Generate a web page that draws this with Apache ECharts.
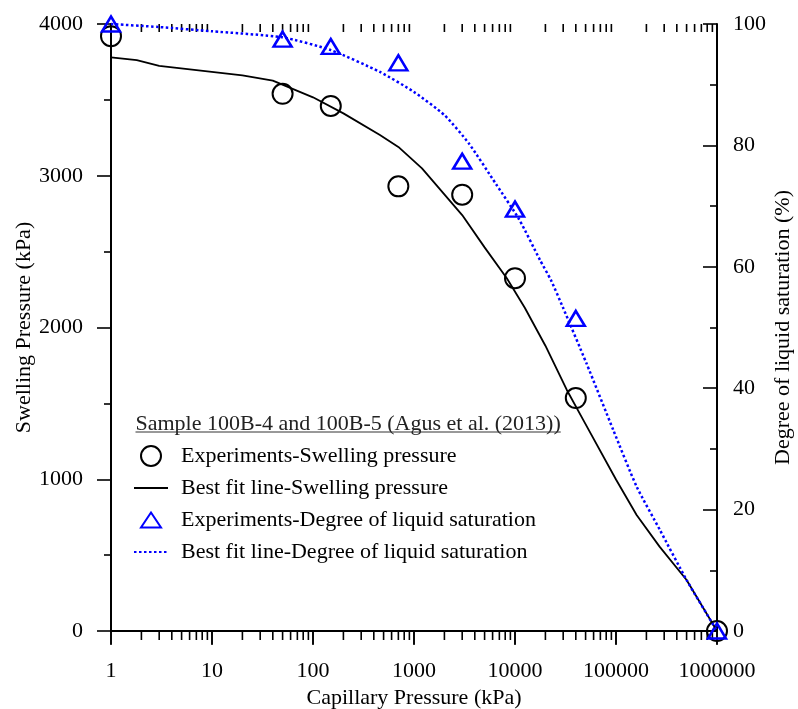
<!DOCTYPE html>
<html><head><meta charset="utf-8">
<script src="https://cdn.jsdelivr.net/npm/echarts@6/dist/echarts.min.js"></script>
<style>html,body{margin:0;padding:0;background:#fff}#c{width:798px;height:709px}</style>
</head><body><div id="c"></div>
<script>
// ---- data ----
const expX = [1, 50, 150, 700, 3000, 10000, 40000, 1000000];
const swellExp = [3920, 3540, 3460, 2930, 2875, 2325, 1535, 0];
const satExp = [100, 97.5, 96.3, 93.6, 77.4, 69.5, 51.5, 0];

const fitSwX = [1, 1.8, 3, 20, 40, 100, 200, 460, 700, 1200, 3000, 5000, 8300, 12500, 20000, 32500, 47500, 100000, 160000, 270000, 500000, 1000000];
const fitSw  = [3780, 3762, 3724, 3662, 3627, 3517, 3411, 3268, 3190, 3049, 2741, 2528, 2324, 2130, 1880, 1590, 1390, 998, 764, 556, 336, 0];

const fitSatX = [1, 3, 10, 50, 150, 460, 1000, 2000, 3500, 6500, 11000, 17700, 22700, 30000, 51000, 94000, 160000, 273000, 500000, 1000000];
const fitSat  = [100, 99.5, 98.8, 97.8, 95.7, 92.1, 88.8, 85, 80.3, 73.6, 67.8, 61.1, 57.8, 53.2, 44.1, 33.1, 23.8, 16.6, 8.4, 0];

const xTickLabels = ['1', '10', '100', '1000', '10000', '100000', '1000000'];
const leftTickLabels = ['0', '1000', '2000', '3000', '4000'];
const rightTickLabels = ['0', '20', '40', '60', '80', '100'];
const minorMultipliers = [2, 3, 4, 5, 6, 7, 8, 9];
const decades = [1, 10, 100, 1000, 10000, 100000];

const legendNames = [
  'Experiments-Swelling pressure',
  'Best fit line-Swelling pressure',
  'Experiments-Degree of liquid saturation',
  'Best fit line-Degree of liquid saturation'
];
const legendTitle = 'Sample 100B-4 and 100B-5 (Agus et al. (2013))';

// ---- build ----
const FONT = "'Liberation Serif', 'Times New Roman', serif";
const FS = 22;
const minorTicks = [];
decades.forEach(d => minorMultipliers.forEach(m => minorTicks.push([d * m])));

const zip = (xs, ys) => xs.map((x, i) => [x, ys[i]]);

const ctx = document.createElement('canvas').getContext('2d');
ctx.font = FS + 'px ' + FONT;
const titleW = ctx.measureText(legendTitle).width;

const chart = echarts.init(document.getElementById('c'), null, {renderer: 'canvas'});
const axisLine = {show: true, lineStyle: {color: '#000', width: 2}};
const tickStyle = {color: '#000', width: 1.6};

chart.setOption({
  animation: false,
  backgroundColor: '#fff',
  grid: {left: 111, right: 81, top: 24, bottom: 78, containLabel: false, outerBoundsMode: 'none'},
  xAxis: [{
    type: 'log', logBase: 10, min: 1, max: 1000000, interval: 1, position: 'bottom',
    axisLine: axisLine,
    axisTick: {show: true, inside: false, length: 14, lineStyle: tickStyle},
    axisLabel: {show: true, margin: 29, fontFamily: FONT, fontSize: FS, color: '#000',
      showMinLabel: true, showMaxLabel: true, hideOverlap: false,
      formatter: v => xTickLabels[Math.round(Math.log10(v))]},
    splitLine: {show: false},
    name: 'Capillary Pressure (kPa)', nameLocation: 'middle', nameGap: 56,
    nameTextStyle: {fontFamily: FONT, fontSize: FS, color: '#000'}
  }, {
    type: 'log', logBase: 10, min: 1, max: 1000000, interval: 1, position: 'top',
    axisLine: axisLine,
    axisTick: {show: true, inside: true, length: 13, lineStyle: tickStyle},
    axisLabel: {show: false},
    splitLine: {show: false}
  }],
  yAxis: [{
    type: 'value', min: 0, max: 4000, interval: 1000, position: 'left',
    axisLine: axisLine,
    axisTick: {show: true, inside: false, length: 14, lineStyle: tickStyle},
    minorTick: {show: true, splitNumber: 2, length: 7, lineStyle: tickStyle},
    axisLabel: {margin: 28, fontFamily: FONT, fontSize: FS, color: '#000',
      formatter: v => leftTickLabels[Math.round(v / 1000)]},
    splitLine: {show: false},
    name: 'Swelling Pressure (kPa)', nameLocation: 'middle', nameGap: 76, nameRotate: 90,
    nameMoveOverlap: false,
    nameTextStyle: {fontFamily: FONT, fontSize: FS, color: '#000'}
  }, {
    type: 'value', min: 0, max: 100, interval: 20, position: 'right',
    axisLine: axisLine,
    axisTick: {show: true, inside: true, length: 14, lineStyle: tickStyle},
    minorTick: {show: true, splitNumber: 2, length: 7, lineStyle: tickStyle},
    axisLabel: {margin: 16, fontFamily: FONT, fontSize: FS, color: '#000',
      formatter: v => rightTickLabels[Math.round(v / 20)]},
    splitLine: {show: false},
    name: 'Degree of liquid saturation (%)', nameLocation: 'middle', nameGap: 55, nameRotate: 90,
    nameMoveOverlap: false,
    nameTextStyle: {fontFamily: FONT, fontSize: FS, color: '#000'}
  }],
  legend: {
    show: true, orient: 'vertical', left: 133, top: 445, padding: 0,
    itemWidth: 34, itemHeight: 20, itemGap: 10,
    selectedMode: false,
    textStyle: {fontFamily: FONT, fontSize: FS, color: '#000', lineHeight: 20, padding: [0, 0, 0, 8]},
    data: [
      {name: legendNames[0], icon: 'circle', itemStyle: {opacity: 1}},
      {name: legendNames[1], itemStyle: {opacity: 0}},
      {name: legendNames[2], icon: 'path://M0,0M10,2.5L20,17.5L0,17.5ZM20,20', itemStyle: {opacity: 1}},
      {name: legendNames[3], itemStyle: {opacity: 0}}
    ]
  },
  graphic: [{
    type: 'group', left: 133, top: 413, silent: true,
    children: [
      {type: 'text', x: 0, y: 0, style: {text: legendTitle, font: FS + 'px ' + FONT, fill: '#222', textVerticalAlign: 'top'}},
      {type: 'line', shape: {x1: 0, y1: 19, x2: titleW, y2: 19}, style: {stroke: '#333', lineWidth: 1}}
    ]
  }],
  series: [{
    type: 'custom', name: 'minorTicks', xAxisIndex: 0, yAxisIndex: 0, silent: true, clip: false,
    data: minorTicks, encode: {x: 0},
    renderItem: (params, api) => {
      const v = api.value(0);
      const b = api.coord([v, 0]);
      const t = api.coord([v, 4000]);
      return {type: 'group', children: [
        {type: 'line', shape: {x1: b[0], y1: b[1], x2: b[0], y2: b[1] + 9}, style: {stroke: '#000', lineWidth: 1.6}},
        {type: 'line', shape: {x1: t[0], y1: t[1], x2: t[0], y2: t[1] + 8}, style: {stroke: '#000', lineWidth: 1.6}}
      ]};
    }
  }, {
    type: 'line', name: legendNames[1], xAxisIndex: 0, yAxisIndex: 0,
    data: zip(fitSwX, fitSw), symbol: 'none', showSymbol: false, clip: false,
    lineStyle: {color: '#000', width: 1.8}, itemStyle: {color: '#000'}
  }, {
    type: 'line', name: legendNames[3], xAxisIndex: 0, yAxisIndex: 1,
    data: zip(fitSatX, fitSat), symbol: 'none', showSymbol: false, smooth: 0.2, clip: false,
    lineStyle: {color: '#0000ff', width: 2.5, type: [2.5, 2.5]}, itemStyle: {color: '#0000ff'}
  }, {
    type: 'scatter', name: legendNames[0], xAxisIndex: 0, yAxisIndex: 0, clip: false,
    data: zip(expX, swellExp), symbol: 'circle', symbolSize: 20,
    itemStyle: {color: 'rgba(255,255,255,0)', borderColor: '#000', borderWidth: 2, opacity: 1}
  }, {
    type: 'scatter', name: legendNames[2], xAxisIndex: 0, yAxisIndex: 1, clip: false,
    data: zip(expX, satExp), symbol: 'triangle', symbolSize: [18, 15],
    itemStyle: {color: 'rgba(255,255,255,0)', borderColor: '#0000ff', borderWidth: 2.5, opacity: 1}
  }]
});
</script>
</body></html>
